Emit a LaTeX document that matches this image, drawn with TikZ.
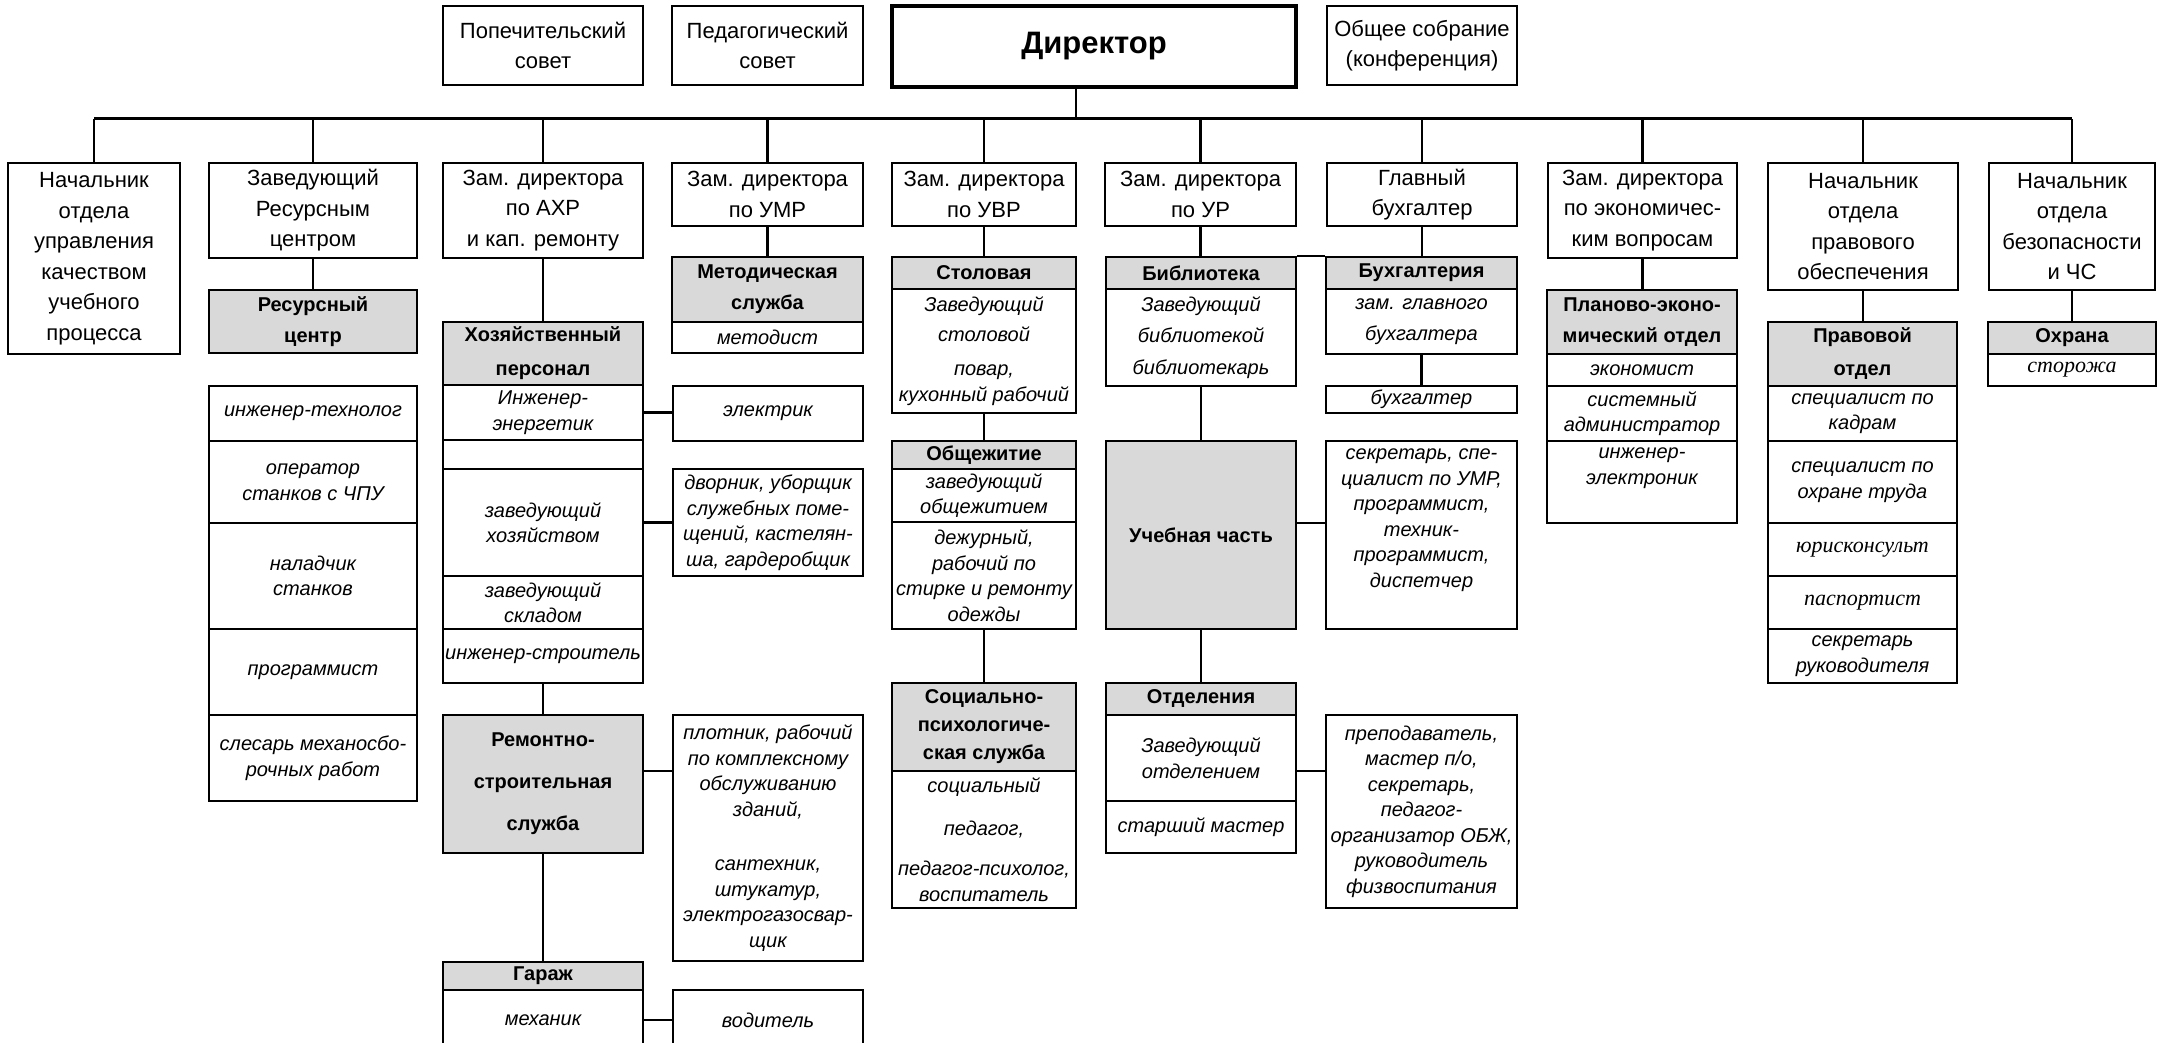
\documentclass[tikz,border=0pt]{standalone}
\usepackage{fontspec}
\setmainfont{Liberation Sans}
\newfontfamily\timesfont{Liberation Serif}
\newcommand\rolefont{\fontsize{22}{30.5}\selectfont}
\newcommand\unitfont{\bfseries\fontsize{20}{31}\selectfont}
\newcommand\stafffont{\itshape\fontsize{20}{25.5}\selectfont}
\begin{document}
\begin{tikzpicture}[x=1pt,y=-1pt,
	box/.style={draw,line width=2.4pt,align=center,inner sep=0pt,fill=white},
	role/.style={box,font=\rolefont},
	unit/.style={box,fill=black!15,font=\unitfont},
	staff/.style={box,font=\stafffont},
	staffserif/.style={box,font=\timesfont\itshape\fontsize{22}{25}\selectfont},
	link/.style={line width=2.2pt},
	bus/.style={line width=3pt}]
\useasboundingbox (0,0) rectangle (2158,1043);
\fill[white] (0,0) rectangle (2158,1043);
% top row
\node[role,minimum width=200,minimum height=79] (popech) at (543,45.5) {Попечительский\\совет};
\node[role,minimum width=191,minimum height=79] (pedsov) at (767.5,45.5) {Педагогический\\совет};
\node[box,line width=4.5pt,font=\bfseries\fontsize{31}{36}\selectfont,
	minimum width=404,minimum height=81] (director) at (1094,46.5) {Директор};
\node[role,minimum width=190,minimum height=79] (sobranie) at (1422,45.5) {Общее собрание\\(конференция)};
\coordinate (bar) at (0,119);
% heads
\node[role,minimum width=172,minimum height=191] (nachkach) at (94,258.5)
	{Начальник\\отдела\\управления\\качеством\\учебного\\процесса};
\node[role,minimum width=208,minimum height=95] (zavres) at (313,210.5) {Заведующий\\Ресурсным\\центром};
\node[role,minimum width=200,minimum height=95] (zamahr) at (543,210.5) {Зам. директора\\по АХР\\и кап. ремонту};
\node[role,minimum width=191,minimum height=63] (zamumr) at (767.5,194.5) {Зам. директора\\по УМР};
\node[role,minimum width=184,minimum height=63] (zamuvr) at (984,194.5) {Зам. директора\\по УВР};
\node[role,minimum width=191,minimum height=63] (zamur) at (1200.5,194.5) {Зам. директора\\по УР};
\node[role,minimum width=190,minimum height=63] (glbuh) at (1422,194.5) {Главный\\бухгалтер};
\node[role,minimum width=189,minimum height=95] (zamek) at (1642.5,210.5) {Зам. директора\\по экономичес-\\ким вопросам};
\node[role,minimum width=190,minimum height=127] (nachprav) at (1863,226.5) {Начальник\\отдела\\правового\\обеспечения};
\node[role,minimum width=166,minimum height=127] (nachbez) at (2072,226.5) {Начальник\\отдела\\безопасности\\и ЧС};
% resource centre
\node[unit,minimum width=208,minimum height=63] (resurs) at (313,321.5) {Ресурсный\\центр};
\node[staff,minimum width=208,minimum height=55] (res1) at (313,413.5) {инженер-технолог};
\node[staff,minimum width=208,minimum height=82] (res2) at (313,482) {оператор\\станков с ЧПУ};
\node[staff,minimum width=208,minimum height=106] (res3) at (313,576) {наладчик\\станков};
\node[staff,minimum width=208,minimum height=86] (res4) at (313,672) {программист};
\node[staff,minimum width=208,minimum height=86] (res5) at (313,758) {слесарь механосбо-\\рочных работ};
% household staff
\node[unit,minimum width=200,minimum height=63] (hoz) at (543,353.5) {Хозяйственный\\[3pt]персонал};
\node[staff,minimum width=200,minimum height=55] (hoz1) at (543,412.5) {Инженер-\\энергетик};
\node[staff,minimum width=200,minimum height=29] (hoz2) at (543,454.5) {};
\node[staff,minimum width=200,minimum height=107] (hoz3) at (543,522.5) {заведующий\\хозяйством};
\node[staff,minimum width=200,minimum height=53] (hoz4) at (543,602.5) {заведующий\\складом};
\node[staff,minimum width=200,minimum height=54] (hoz5) at (543,656) {инженер-строитель};
\node[unit,minimum width=200,minimum height=138] (remstroy) at (543,784)
	{Ремонтно-\\[11pt]строительная\\[11pt]служба};
\node[unit,minimum width=200,minimum height=28] (garazh) at (543,976) {Гараж};
\node[staff,minimum width=200,minimum height=60] (mehanik) at (543,1020) {механик};
\node[staff,minimum width=190,minimum height=55] (elektrik) at (768,413.5) {электрик};
\node[staff,minimum width=190,minimum height=107] (dvornik) at (768,522.5)
	{дворник, уборщик\\служебных поме-\\щений, кастелян-\\ша, гардеробщик};
\node[staff,minimum width=190,minimum height=246] (plotnik) at (768,838)
	{плотник, рабочий\\по комплексному\\обслуживанию\\зданий,\\[29pt]сантехник,\\штукатур,\\электрогазосвар-\\щик};
\node[staff,minimum width=190,minimum height=60] (voditel) at (768,1020) {водитель};
% methodical service
\node[unit,minimum width=191,minimum height=65] (metod) at (767.5,289.5) {Методическая\\служба};
\node[staff,minimum width=191,minimum height=31] (metodist) at (767.5,337.5) {методист};
% canteen, hostel, social service
\node[unit,minimum width=184,minimum height=32] (stol) at (984,273) {Столовая};
\node[staff,minimum width=184,minimum height=124] (stolbody) at (984,351)
	{Заведующий\\[4pt]столовой\\[9pt]повар,\\кухонный рабочий};
\node[unit,minimum width=184,minimum height=28] (obsh) at (984,455) {Общежитие};
\node[staff,minimum width=184,minimum height=53] (obsh1) at (984,495.5) {заведующий\\общежитием};
\node[staff,minimum width=184,minimum height=107] (obsh2) at (984,575.5)
	{дежурный,\\рабочий по\\стирке и ремонту\\одежды};
\node[unit,minimum width=184,minimum height=88,font=\bfseries\fontsize{20}{28}\selectfont] (soc) at (984,727)
	{Социально-\\психологиче-\\ская служба};
\node[staff,minimum width=184,minimum height=137] (socbody) at (984,839.5)
	{социальный\\[17pt]педагог,\\[15pt]педагог-психолог,\\воспитатель};
% library, studies, departments
\node[unit,minimum width=190,minimum height=32] (bib) at (1201,273) {Библиотека};
\node[staff,minimum width=190,minimum height=97] (bibbody) at (1201,337.5)
	{Заведующий\\[6pt]библиотекой\\[6pt]библиотекарь};
\node[unit,minimum width=190,minimum height=188] (ucheb) at (1201,535) {Учебная часть};
\node[unit,minimum width=190,minimum height=32] (otdel) at (1201,699) {Отделения};
\node[staff,minimum width=190,minimum height=86] (otdel1) at (1201,758) {Заведующий\\отделением};
\node[staff,minimum width=190,minimum height=52] (otdel2) at (1201,827) {старший мастер};
\node[staff,minimum width=191,minimum height=193] (prepod) at (1421.5,811.5)
	{преподаватель,\\мастер п/о,\\секретарь,\\педагог-\\организатор ОБЖ,\\руководитель\\физвоспитания};
% accounting
\node[unit,minimum width=191,minimum height=32] (buh) at (1421.5,273) {Бухгалтерия};
\node[staff,minimum width=191,minimum height=65] (buhbody) at (1421.5,321.5) {зам. главного\\[5pt]бухгалтера};
\node[staff,minimum width=191,minimum height=27] (buhgalter) at (1421.5,399.5) {бухгалтер};
\node[staff,minimum width=191,minimum height=188] (sekr) at (1421.5,535)
	{секретарь, спе-\\циалист по УМР,\\программист,\\техник-\\программист,\\диспетчер\\[8pt]};
% planning and economics
\node[unit,minimum width=190,minimum height=64] (plan) at (1642,322) {Планово-эконо-\\мический отдел};
\node[staff,minimum width=190,minimum height=32] (ek1) at (1642,370) {экономист};
\node[staff,minimum width=190,minimum height=55] (ek2) at (1642,413.5) {системный\\администратор};
\node[staff,minimum width=190,minimum height=82] (ek3) at (1642,482) {инженер-\\электроник\\[6pt]};
% legal department
\node[unit,minimum width=189,minimum height=64] (prav) at (1862.5,354) {Правовой\\[2pt]отдел};
\node[staff,minimum width=189,minimum height=55] (prav1) at (1862.5,413.5) {специалист по\\кадрам};
\node[staff,minimum width=189,minimum height=82] (prav2) at (1862.5,482) {специалист по\\охране труда};
\node[staffserif,minimum width=189,minimum height=53] (prav3) at (1862.5,549.5) {юрисконсульт};
\node[staffserif,minimum width=189,minimum height=53] (prav4) at (1862.5,602.5) {паспортист};
\node[staff,minimum width=189,minimum height=54] (prav5) at (1862.5,656) {секретарь\\руководителя};
% security
\node[unit,minimum width=168,minimum height=32] (ohr) at (2072,338) {Охрана};
\node[staffserif,minimum width=168,minimum height=32] (ohr1) at (2072,370) {сторожа};
% connectors
\draw[bus] (nachkach.north |- bar) -- (nachbez.north |- bar);
\draw[link] ([xshift=-18pt]director.south) -- ([xshift=-18pt]director.south |- bar);
\foreach \n in {nachkach,zavres,zamahr,zamumr,zamuvr,zamur,glbuh,zamek,nachprav,nachbez}
	\draw[link] (\n.north) -- (\n.north |- bar);
\foreach \a/\b in {zavres/resurs,zamahr/hoz,zamumr/metod,zamuvr/stol,zamur/bib,glbuh/buh,
	zamek/plan,nachprav/prav,nachbez/ohr,stolbody/obsh,obsh2/soc,bibbody/ucheb,ucheb/otdel,
	buhbody/buhgalter,hoz5/remstroy,remstroy/garazh}
	\draw[link] (\a.south) -- (\a.south |- \b.north);
\foreach \a/\b in {hoz1/elektrik,hoz3/dvornik,mehanik/voditel}
	\draw[link] (\a.east) -- (\a.east -| \b.west);
\draw[link] ([yshift=13pt]remstroy.east) -- ([yshift=13pt]remstroy.east -| plotnik.west);
\draw[link] ([yshift=12pt]ucheb.east) -- ([yshift=12pt]ucheb.east -| sekr.west);
\draw[link] ([yshift=-13pt]otdel1.east) -- ([yshift=-13pt]otdel1.east -| prepod.west);
\draw[link] (bib.north east) -- (buh.north west);
\end{tikzpicture}
\end{document}
